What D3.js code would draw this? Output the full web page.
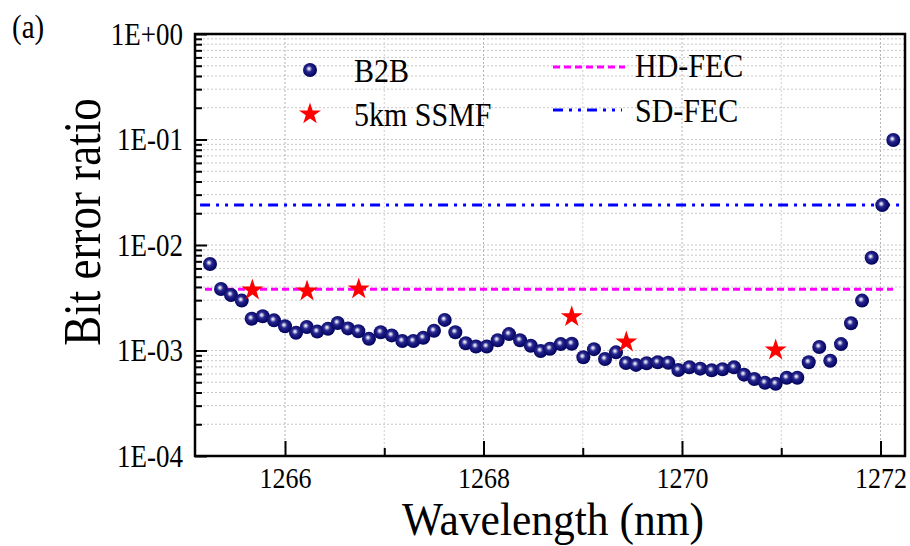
<!DOCTYPE html>
<html>
<head>
<meta charset="utf-8">
<script src="https://cdn.jsdelivr.net/npm/d3@7"></script>
<style>
  html, body { margin: 0; padding: 0; background: #fff; }
  svg { display: block; }
  text { font-family: "Liberation Serif", "Times New Roman", serif; fill: #000; }
</style>
</head>
<body>
<svg id="chart" width="910" height="546"></svg>
<script>
// ---------------- DATA ----------------
const wavelengthB2B = [
  1265.244, 1265.355, 1265.456, 1265.564, 1265.664, 1265.775, 1265.889, 1266.000,
  1266.111, 1266.219, 1266.325, 1266.433, 1266.531, 1266.635, 1266.739, 1266.846,
  1266.964, 1267.075, 1267.182, 1267.293, 1267.393, 1267.501, 1267.609, 1267.716,
  1267.821, 1267.924, 1268.032, 1268.143, 1268.257, 1268.368, 1268.476, 1268.576,
  1268.670, 1268.778, 1268.889, 1269.006, 1269.113, 1269.224, 1269.335, 1269.436,
  1269.537, 1269.644, 1269.755, 1269.862, 1269.963, 1270.074, 1270.184, 1270.299,
  1270.408, 1270.524, 1270.625, 1270.729, 1270.836, 1270.944, 1271.055, 1271.162,
  1271.277, 1271.383, 1271.494, 1271.602, 1271.703, 1271.814, 1271.911, 1272.018,
  1272.129
];
const berB2B = [
  6.61e-3, 3.83e-3, 3.36e-3, 2.97e-3, 2.00e-3, 2.11e-3, 1.93e-3, 1.70e-3,
  1.47e-3, 1.67e-3, 1.51e-3, 1.61e-3, 1.82e-3, 1.62e-3, 1.52e-3, 1.29e-3,
  1.49e-3, 1.39e-3, 1.23e-3, 1.23e-3, 1.32e-3, 1.54e-3, 1.95e-3, 1.49e-3,
  1.17e-3, 1.09e-3, 1.09e-3, 1.25e-3, 1.43e-3, 1.25e-3, 1.11e-3, 9.9e-4,
  1.04e-3, 1.15e-3, 1.16e-3, 8.63e-4, 1.03e-3, 8.30e-4, 9.6e-4, 7.62e-4,
  7.30e-4, 7.57e-4, 7.73e-4, 7.66e-4, 6.53e-4, 6.93e-4, 6.73e-4, 6.49e-4,
  6.65e-4, 6.93e-4, 5.90e-4, 5.37e-4, 4.95e-4, 4.84e-4, 5.52e-4, 5.52e-4,
  7.73e-4, 1.08e-3, 8.0e-4, 1.15e-3, 1.81e-3, 2.97e-3, 7.58e-3, 2.39e-2,
  9.89e-2
];
const wavelengthSSMF = [1265.671, 1266.222, 1266.743, 1268.889, 1269.439, 1270.944];
const berSSMF = [3.74e-3, 3.66e-3, 3.83e-3, 2.09e-3, 1.20e-3, 1.01e-3];

const hdFecLevel = 3.8e-3;
const sdFecLevel = 2.4e-2;
const hdFecSpan = [1265.194, 1272.126];
const sdFecSpan = [1265.144, 1272.197];

const xTickValues = [1266, 1268, 1270, 1272];
const xMinorTickValues = [1267, 1269, 1271];
const yTickValues = [1, 1e-1, 1e-2, 1e-3, 1e-4];
const yTickLabels = ["1E+00", "1E-01", "1E-02", "1E-03", "1E-04"];

const seriesNames = ["B2B", "5km SSMF"];
const fecNames = ["HD-FEC", "SD-FEC"];

// ---------------- LAYOUT ----------------
const svg = d3.select("#chart");
const L = 195, R = 905, T = 34, B = 456;
const SY = 1.15; // vertical stretch of glyphs seen in the reference

const x = d3.scaleLinear().domain([1265.093, 1272.247]).range([L, R]);
const y = d3.scaleLog().domain([1e-4, 1]).range([B, T]);

const yMinor = [];
for (let e = -4; e < 0; e++) {
  for (let m = 2; m <= 9; m++) yMinor.push(m * Math.pow(10, e));
}
const xGrid = xTickValues.concat(xMinorTickValues);

function sText(px, py, str, size, anchor, sy) {
  return svg.append("text")
    .attr("transform", `translate(${px},${py}) scale(1,${sy || SY})`)
    .attr("text-anchor", anchor || "start")
    .attr("font-size", size)
    .text(str);
}

// defs: sphere gradient
const defs = svg.append("defs");
const grad = defs.append("radialGradient").attr("id", "sphere")
  .attr("cx", "45%").attr("cy", "45%").attr("r", "55%")
  .attr("fx", "42%").attr("fy", "40%");
grad.append("stop").attr("offset", "0%").attr("stop-color", "#ffffff");
grad.append("stop").attr("offset", "14%").attr("stop-color", "#c4c4e4");
grad.append("stop").attr("offset", "40%").attr("stop-color", "#26268e");
grad.append("stop").attr("offset", "100%").attr("stop-color", "#00005c");

// ---------------- GRID ----------------
const grid = svg.append("g");
grid.selectAll("line.hg").data(yMinor.concat([1e-1, 1e-2, 1e-3])).join("line")
  .attr("x1", L).attr("x2", R)
  .attr("y1", d => y(d)).attr("y2", d => y(d))
  .attr("stroke", "#c8c8c8").attr("stroke-width", 1)
  .attr("stroke-dasharray", "2,2");
grid.selectAll("line.vg").data(xGrid).join("line")
  .attr("x1", d => x(d)).attr("x2", d => x(d))
  .attr("y1", T).attr("y2", B)
  .attr("stroke", d => xTickValues.includes(d) ? "#b4b4b4" : "#d0d0d0")
  .attr("stroke-width", 1)
  .attr("stroke-dasharray", "2,2");

// ---------------- FEC LINES ----------------
svg.append("line")
  .attr("x1", x(hdFecSpan[0])).attr("x2", x(hdFecSpan[1]))
  .attr("y1", y(hdFecLevel)).attr("y2", y(hdFecLevel))
  .attr("stroke", "#ff00ff").attr("stroke-width", 3)
  .attr("stroke-dasharray", "7,4");
svg.append("line")
  .attr("x1", x(sdFecSpan[0])).attr("x2", x(sdFecSpan[1]))
  .attr("y1", y(sdFecLevel)).attr("y2", y(sdFecLevel))
  .attr("stroke", "#0000ff").attr("stroke-width", 3)
  .attr("stroke-dasharray", "10,6,3,6,3,6");

// ---------------- DATA MARKS ----------------
const b2b = wavelengthB2B.map((w, i) => ({ w, v: berB2B[i] }));
const ssmf = wavelengthSSMF.map((w, i) => ({ w, v: berSSMF[i] }));

svg.append("g").selectAll("circle").data(b2b).join("circle")
  .attr("cx", d => x(d.w)).attr("cy", d => y(d.v))
  .attr("r", 7)
  .attr("fill", "url(#sphere)");

const star = d3.symbol().type(d3.symbolStar).size(150);
svg.append("g").selectAll("path").data(ssmf).join("path")
  .attr("d", star)
  .attr("transform", d => `translate(${x(d.w)},${y(d.v)})`)
  .attr("fill", "#ff0000");

// ---------------- AXES ----------------
// left major
const gy = svg.append("g").attr("transform", `translate(${L},0)`)
  .call(d3.axisLeft(y).tickValues(yTickValues).tickSize(-12).tickPadding(12)
    .tickFormat((d, i) => yTickLabels[i]));
gy.select(".domain").remove();
gy.selectAll(".tick line").attr("stroke", "#000").attr("stroke-width", 2);
gy.selectAll(".tick text")
  .attr("font-size", 27).attr("fill", "#000")
  .attr("dy", null).attr("y", 10 / SY)
  .attr("transform", `scale(1,${SY})`);
// left minor
const gym = svg.append("g").attr("transform", `translate(${L},0)`)
  .call(d3.axisLeft(y).tickValues(yMinor).tickSize(-7).tickFormat(""));
gym.select(".domain").remove();
gym.selectAll(".tick line").attr("stroke", "#000").attr("stroke-width", 2);

// bottom major
const gx = svg.append("g").attr("transform", `translate(0,${B})`)
  .call(d3.axisBottom(x).tickValues(xTickValues).tickSize(-15).tickPadding(14)
    .tickFormat(d3.format("d")));
gx.select(".domain").remove();
gx.selectAll(".tick line").attr("stroke", "#000").attr("stroke-width", 2);
gx.selectAll(".tick text")
  .attr("font-size", 26).attr("fill", "#000")
  .attr("dy", null).attr("y", 32 / SY)
  .attr("transform", `scale(1,${SY})`);
// bottom minor
const gxm = svg.append("g").attr("transform", `translate(0,${B})`)
  .call(d3.axisBottom(x).tickValues(xMinorTickValues).tickSize(-8).tickFormat(""));
gxm.select(".domain").remove();
gxm.selectAll(".tick line").attr("stroke", "#000").attr("stroke-width", 2);

// frame
svg.append("rect").attr("x", L).attr("y", T).attr("width", R - L).attr("height", B - T)
  .attr("fill", "none").attr("stroke", "#000").attr("stroke-width", 2.5);

// axis titles
sText((L + R) / 2 + 3, 535, "Wavelength (nm)", 43.5, "middle", 1.05);
svg.append("text")
  .attr("transform", `translate(100,222) rotate(-90) scale(1,${SY})`)
  .attr("text-anchor", "middle").attr("font-size", 45)
  .text("Bit error ratio");

// panel label
sText(12, 38, "(a)", 29);

// ---------------- LEGEND ----------------
const legendFont = 30;
svg.append("circle").attr("cx", 310).attr("cy", 70).attr("r", 7).attr("fill", "url(#sphere)");
sText(354, 82, seriesNames[0], legendFont);
svg.append("path").attr("d", star).attr("transform", "translate(310,114)").attr("fill", "#ff0000");
sText(354, 126, seriesNames[1], legendFont);

svg.append("line").attr("x1", 553).attr("x2", 625).attr("y1", 67).attr("y2", 67)
  .attr("stroke", "#ff00ff").attr("stroke-width", 3).attr("stroke-dasharray", "7,4");
sText(635, 77, fecNames[0], legendFont);
svg.append("line").attr("x1", 553).attr("x2", 622).attr("y1", 110).attr("y2", 110)
  .attr("stroke", "#0000ff").attr("stroke-width", 3).attr("stroke-dasharray", "10,6,3,6,3,6");
sText(635, 122, fecNames[1], legendFont);
</script>
</body>
</html>
